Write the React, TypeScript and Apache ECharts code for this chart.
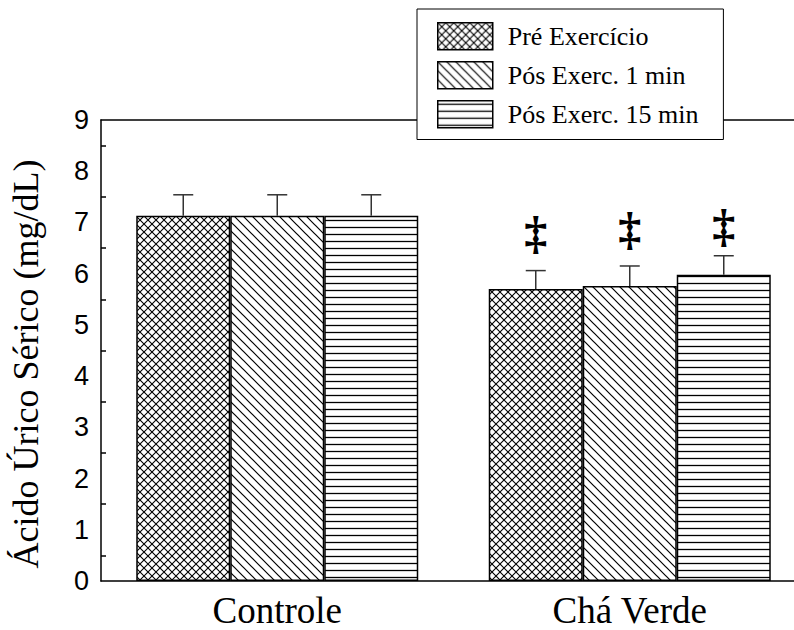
import React, { useEffect, useRef } from "react";
import * as echarts from "echarts";

const categories = ["Controle", "Chá Verde"];
const seriesNames = ["Pré Exercício", "Pós Exerc. 1 min", "Pós Exerc. 15 min"];
const preValues = [7.13, 5.7];
const pos1Values = [7.13, 5.76];
const pos15Values = [7.13, 5.98];
const preErr = [0.41, 0.36];
const pos1Err = [0.41, 0.39];
const pos15Err = [0.41, 0.37];
// double-dagger markers above the Chá Verde bars (y position in axis units)
const daggerY = [6.8, 6.89, 6.95];
const yTicks = { min: 0, max: 9, interval: 1 };
const yTitle = "Ácido Úrico Sérico (mg/dL)";

const BAR_W = 94;
const SERIF = "Liberation Serif";
const SANS = "Liberation Sans";

function tile(w: number, h: number, d: string, sw: number) {
  const svg = `<svg xmlns="http://www.w3.org/2000/svg" width="${w}" height="${h}"><path d="${d}" stroke="#000" stroke-width="${sw}" fill="none"/></svg>`;
  return {
    image: "data:image/svg+xml;charset=utf-8," + encodeURIComponent(svg),
    repeat: "repeat",
    imageWidth: w,
    imageHeight: h,
  } as any;
}

export default function App() {
  const ref = useRef<HTMLDivElement>(null);
  useEffect(() => {
    document.body.style.margin = "0";
    if (!ref.current) return;
    const chart = echarts.init(ref.current, undefined, { renderer: "svg" });

    const cross = tile(8, 8, "M-1,-1L9,9M9,-1L-1,9", 1.1);
    const diag = tile(9, 9, "M-1,-1L10,10M8,-1L10,1M-1,8L1,10", 1.2);
    const horiz = tile(7, 7, "M-1,3.5H8", 1.3);
    const patterns = [cross, diag, horiz];
    const values = [preValues, pos1Values, pos15Values];
    const errs = [preErr, pos1Err, pos15Err];

    const barSeries = seriesNames.map((name, k) => ({
      name,
      type: "bar",
      data: values[k],
      barWidth: BAR_W,
      barGap: "0%",
      itemStyle: { color: patterns[k], borderColor: "#000", borderWidth: 1.5 },
      z: 2,
    }));

    const errData: number[][] = [];
    for (let k = 0; k < 3; k++) {
      for (let c = 0; c < categories.length; c++) {
        errData.push([c, values[k][c], errs[k][c], k]);
      }
    }
    const daggerData = daggerY.map((y, k) => [1, y, k]);

    const option: any = {
      animation: false,
      backgroundColor: "#fff",
      grid: { left: 101, top: 120, width: 705, bottom: 49, outerBoundsMode: "none", containLabel: false },
      legend: {
        data: seriesNames,
        orient: "vertical",
        left: 417,
        top: 9,
        icon: "rect",
        itemWidth: 55,
        itemHeight: 27,
        itemGap: 10.5,
        padding: [13, 25, 11, 20],
        backgroundColor: "#fff",
        borderColor: "#000",
        borderWidth: 1,
        itemStyle: { borderColor: "#000", borderWidth: 1.5 },
        textStyle: { fontFamily: SERIF, fontSize: 26, lineHeight: 27, color: "#000", padding: [0, 0, 0, 10] },
        z: 10,
      },
      graphic: [
        {
          type: "text",
          x: 26,
          y: 364,
          rotation: Math.PI / 2,
          style: {
            text: yTitle,
            fontFamily: SERIF,
            fontSize: 36,
            fill: "#000",
            align: "center",
            verticalAlign: "middle",
          },
        },
      ],
      xAxis: [
        {
          type: "category",
          data: categories,
          axisLine: { lineStyle: { color: "#000", width: 1.5 } },
          axisTick: { inside: true, length: 6, lineStyle: { color: "#000", width: 1.5 } },
          axisLabel: { fontFamily: SERIF, fontSize: 37, lineHeight: 35, color: "#000", margin: 12 },
        },
        {
          type: "category",
          data: categories,
          position: "top",
          axisLine: { lineStyle: { color: "#000", width: 1.5 } },
          axisTick: { show: false },
          axisLabel: { show: false },
        },
      ],
      yAxis: {
        type: "value",
        min: yTicks.min,
        max: yTicks.max,
        interval: yTicks.interval,
        axisLine: { show: true, lineStyle: { color: "#000", width: 1.5 } },
        axisTick: { inside: true, length: 10, lineStyle: { color: "#000", width: 1.5 } },
        minorTick: { show: true, splitNumber: 2, length: 5, lineStyle: { color: "#000", width: 1.5 } },
        splitLine: { show: false },
        minorSplitLine: { show: false },
        axisLabel: { fontFamily: SANS, fontSize: 27, color: "#000", margin: 12 },
      },
      series: [
        ...barSeries,
        {
          name: "err",
          type: "custom",
          data: errData,
          z: 3,
          renderItem: (params: any, api: any) => {
            const c = api.value(0);
            const v = api.value(1);
            const e = api.value(2);
            const k = api.value(3);
            const p = api.coord([c, v]);
            const t = api.coord([c, v + e]);
            const x = p[0] + (k - 1) * BAR_W;
            const st = { stroke: "#333", lineWidth: 1.5 };
            return {
              type: "group",
              children: [
                { type: "line", shape: { x1: x, y1: p[1], x2: x, y2: t[1] }, style: st },
                { type: "line", shape: { x1: x - 10, y1: t[1], x2: x + 10, y2: t[1] }, style: st },
              ],
            };
          },
        },
        {
          name: "dagger",
          type: "custom",
          data: daggerData,
          z: 3,
          renderItem: (params: any, api: any) => {
            const c = api.value(0);
            const y = api.value(1);
            const k = api.value(2);
            const p = api.coord([c, y]);
            return {
              type: "text",
              x: p[0] + (k - 1) * BAR_W,
              y: p[1],
              style: {
                text: "‡",
                fontFamily: SERIF,
                fontSize: 46,
                fontWeight: "bold",
                fill: "#000",
                align: "center",
                verticalAlign: "middle",
              },
            };
          },
        },
      ],
    };
    chart.setOption(option);
    return () => chart.dispose();
  }, []);
  return <div ref={ref} style={{ width: 794, height: 630 }} />;
}
